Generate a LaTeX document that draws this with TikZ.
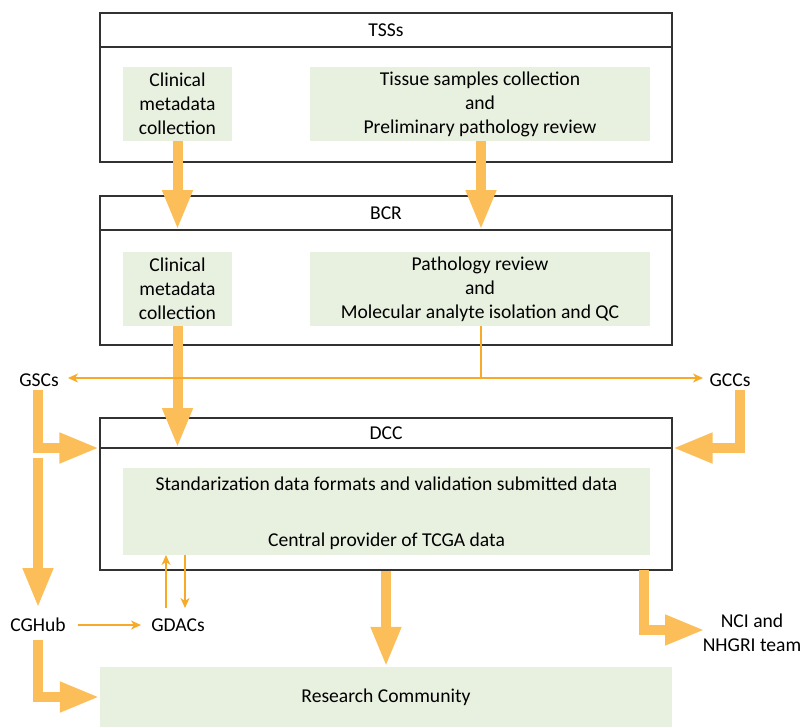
\documentclass[tikz,border=0pt]{standalone}
\usepackage{fontspec}
\setmainfont{Carlito}
\usetikzlibrary{arrows.meta}
\definecolor{boxgreen}{RGB}{232,240,224}
\definecolor{flowbig}{RGB}{251,190,88}
\definecolor{flowthin}{RGB}{247,170,40}
\definecolor{frame}{RGB}{50,50,50}
\tikzset{
  stage/.style={draw=frame, line width=1.2pt, minimum width=572pt, inner sep=0pt},
  gbox/.style={fill=boxgreen, inner sep=0pt, align=center, font=\fontsize{19.6}{24}\selectfont},
  lbl/.style={inner sep=0pt, align=center, font=\fontsize{19.6}{24}\selectfont},
  bigflow/.style={draw=flowbig, line width=10pt, line join=miter,
    -{Triangle[length=40pt,width=28pt]}},
  thinflow/.style={draw=flowthin, line width=1.5pt, -{Stealth[length=10pt,width=9pt,inset=3pt]}},
  thinline/.style={draw=flowthin, line width=1.5pt}
}
\begin{document}
\begin{tikzpicture}[x=1pt,y=-1pt]
\useasboundingbox (0,0) rectangle (809,726);

% TSSs stage
\node[stage, minimum height=149pt] (tss) at (386,87.5) {};
\draw[frame, line width=1.2pt] (100,47) coordinate (tssH) -- (672,47);
\node[lbl] (tssT) at (386,30) {TSSs};
\node[gbox, minimum width=109pt, minimum height=74pt] (tcm) at (177.5,104) {Clinical\\metadata\\collection};
\node[gbox, minimum width=340pt, minimum height=74pt] (tts) at (480,104) {Tissue samples collection\\and\\Preliminary pathology review};

% BCR stage
\node[stage, minimum height=149pt] (bcr) at (386,270.5) {};
\draw[frame, line width=1.2pt] (100,230) coordinate (bcrH) -- (672,230);
\node[lbl] (bcrT) at (386,213) {BCR};
\node[gbox, minimum width=109pt, minimum height=74pt] (bcm) at (177.5,289) {Clinical\\metadata\\collection};
\node[gbox, minimum width=340pt, minimum height=74pt] (bpr) at (480,289) {Pathology review\\and\\Molecular analyte isolation and QC};

% DCC stage
\node[stage, minimum height=152pt] (dcc) at (386,494) {};
\draw[frame, line width=1.2pt] (100,448) coordinate (dccH) -- (672,448);
\node[lbl] (dccT) at (386,433) {DCC};
\node[gbox, minimum width=527pt, minimum height=87pt] (dstd) at (386.5,511.5) {};
\node[lbl] (dl1) at (386.5,484) {Standarization data formats and validation submitted data};
\node[lbl] (dl2) at (386.5,541) {Central provider of TCGA data};

% research community
\node[gbox, minimum width=572pt, minimum height=60pt] (rc) at (386,697) {Research Community};

% side labels
\node[lbl] (gsc) at (39,380) {GSCs};
\node[lbl] (gcc) at (730,380) {GCCs};
\node[lbl] (cgh) at (38,625) {CGHub};
\node[lbl] (gda) at (178,625) {GDACs};
\node[lbl] (nci) at (752,633) {NCI and\\NHGRI team};

% main flows
\draw[bigflow] (tcm.south) -- (tcm.south |- bcrH);
\draw[bigflow] (481,141) -- (481,230);
\draw[bigflow] (bcm.south) -- (bcm.south |- dccH);
\draw[bigflow] (38,390) |- (dccH -| dcc.west);
\draw[bigflow] (740,390) |- (dccH -| dcc.east);
\draw[bigflow] (38,458) -- (38,608);
\draw[bigflow] (38,640) |- (rc.west);
\draw[bigflow] (dcc.south) -- (rc.north);
\draw[bigflow] (644,570) |- (705,630);

% thin flows
\draw[thinline] (481,326) -- (481,378) coordinate (split);
\draw[thinflow] (split) -- (68,378);
\draw[thinflow] (split) -- (703,378);
\draw[thinflow] (78,625) -- (141,625);
\draw[thinflow] (166,608) -- (166,555);
\draw[thinflow] (185,555) -- (185,608);
\end{tikzpicture}
\end{document}
